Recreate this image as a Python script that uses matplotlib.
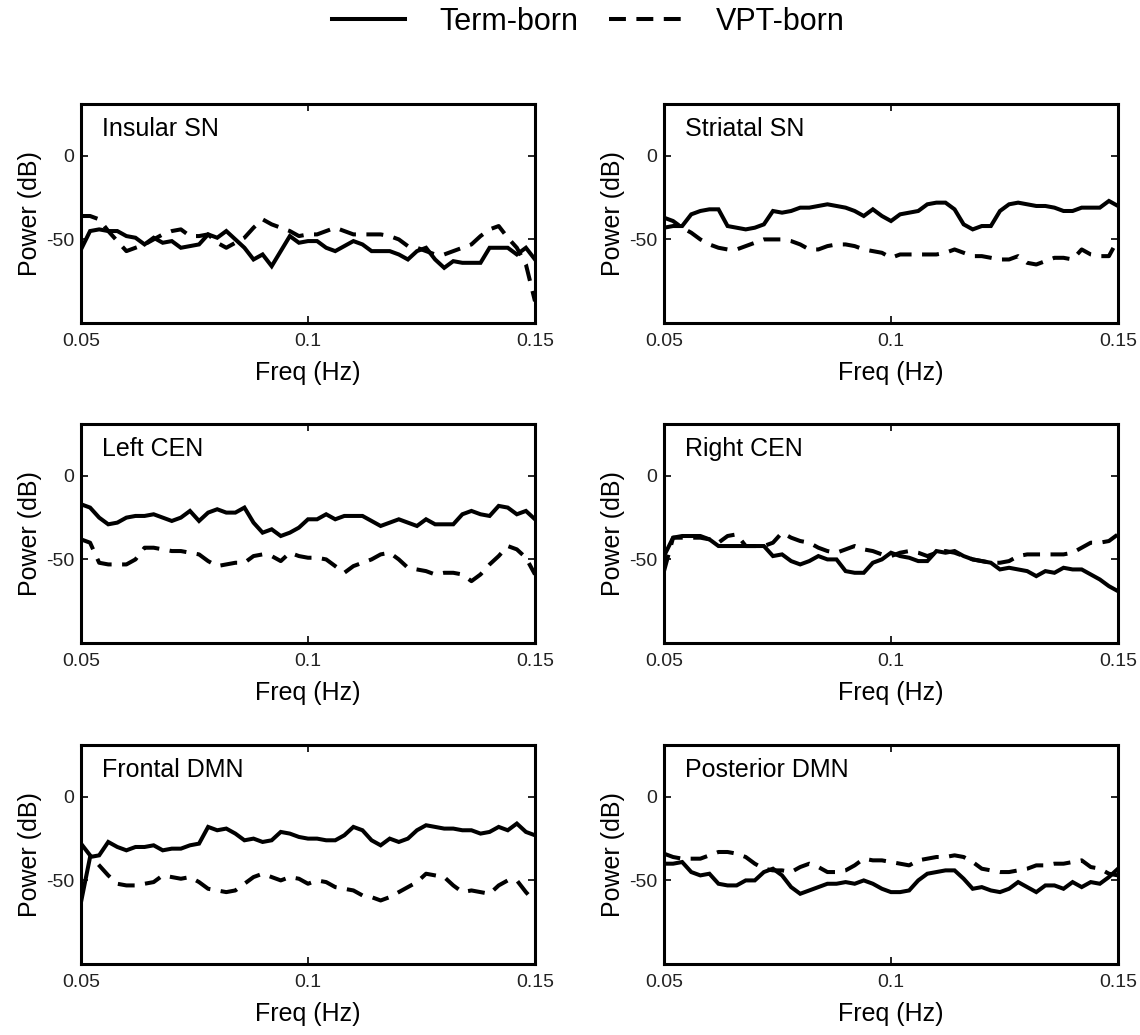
import numpy as np
import matplotlib
matplotlib.use("Agg")
import matplotlib.pyplot as plt
from matplotlib.lines import Line2D

plt.rcParams['font.family'] = ['Liberation Sans', 'DejaVu Sans']

freq = np.linspace(0.05, 0.15, 51)

panel_titles = ["Insular SN", "Striatal SN", "Left CEN", "Right CEN", "Frontal DMN", "Posterior DMN"]
series_names = ["Term-born", "VPT-born"]
x_ticks = [0.05, 0.1, 0.15]
x_tick_labels = ["0.05", "0.1", "0.15"]
y_ticks = [-50, 0]
y_tick_labels = ["-50", "0"]

insular_term = [-56, -45, -44, -45, -45, -48, -49, -53, -49, -52, -51, -55, -54, -53, -47, -49, -45, -50,
                -55, -62, -59, -66, -57, -48, -52, -51, -51, -55, -57, -54, -51, -53, -57, -57, -57, -59,
                -62, -57, -55, -62, -67, -63, -64, -64, -64, -55, -55, -55, -59, -55, -62]
insular_vpt = [-36, -36, -38, -45, -51, -57, -55, -53, -50, -47, -45, -44, -48, -48, -47, -52, -55, -52,
               -49, -43, -38, -41, -43, -45, -48, -47, -47, -45, -43, -45, -47, -47, -47, -47, -48, -50,
               -54, -55, -57, -59, -59, -57, -55, -53, -48, -44, -42, -49, -55, -65, -87]

striatal_term = [-43, -42, -42, -35, -33, -32, -32, -42, -43, -44, -43, -41, -33, -34, -33, -31, -31, -30,
                 -29, -30, -31, -33, -36, -32, -36, -39, -35, -34, -33, -29, -28, -28, -32, -41, -44, -42,
                 -42, -33, -29, -28, -29, -30, -30, -31, -33, -33, -31, -31, -31, -27, -30]
striatal_vpt = [-37, -39, -43, -46, -50, -53, -55, -56, -56, -54, -52, -50, -50, -50, -51, -53, -56, -56,
                -54, -53, -53, -54, -56, -57, -58, -61, -59, -59, -59, -59, -59, -58, -56, -58, -60, -60,
                -61, -62, -62, -60, -64, -65, -63, -61, -61, -62, -56, -59, -60, -60, -50]

leftcen_term = [-17, -19, -25, -29, -28, -25, -24, -24, -23, -25, -27, -25, -21, -27, -22, -20, -22, -22,
                -19, -28, -34, -32, -36, -34, -31, -26, -26, -23, -26, -24, -24, -24, -27, -30, -28, -26,
                -28, -30, -26, -29, -29, -29, -23, -21, -23, -24, -18, -19, -23, -21, -26]
leftcen_vpt = [-38, -40, -52, -53, -53, -53, -50, -43, -43, -44, -45, -45, -46, -47, -51, -54, -53, -52,
               -52, -48, -47, -48, -51, -46, -48, -49, -49, -50, -54, -58, -54, -52, -50, -47, -46, -50,
               -55, -56, -57, -59, -58, -58, -59, -63, -59, -53, -48, -42, -44, -49, -59]

rightcen_term = [-48, -37, -36, -36, -36, -38, -42, -42, -42, -42, -42, -42, -48, -47, -51, -53, -51, -48,
                 -50, -50, -57, -58, -58, -52, -50, -46, -48, -49, -51, -51, -45, -46, -45, -48, -50, -51,
                 -52, -56, -55, -56, -57, -60, -57, -58, -55, -56, -56, -59, -62, -66, -69]
rightcen_vpt = [-57, -37, -37, -37, -37, -38, -40, -36, -35, -42, -42, -42, -40, -34, -37, -39, -40, -43,
                -45, -46, -44, -42, -44, -45, -47, -48, -46, -45, -46, -48, -46, -45, -46, -48, -50, -51,
                -52, -52, -51, -48, -47, -47, -47, -47, -47, -46, -43, -40, -40, -39, -35]

frontal_term = [-63, -36, -35, -27, -30, -32, -30, -30, -29, -32, -31, -31, -29, -28, -18, -20, -19, -22,
                -26, -25, -27, -26, -21, -22, -24, -25, -25, -26, -26, -23, -18, -20, -26, -29, -25, -27,
                -25, -20, -17, -18, -19, -19, -20, -20, -22, -21, -18, -20, -16, -21, -23]
frontal_vpt = [-28, -35, -41, -47, -52, -53, -53, -52, -51, -47, -48, -49, -48, -51, -55, -56, -57, -56,
               -52, -48, -46, -48, -50, -48, -49, -52, -50, -51, -54, -55, -56, -59, -60, -62, -60, -57,
               -54, -51, -46, -47, -48, -53, -57, -56, -57, -58, -53, -50, -50, -57, -63]

posterior_term = [-40, -40, -39, -45, -47, -46, -52, -53, -53, -50, -50, -45, -43, -47, -54, -58, -56, -54,
                  -52, -52, -51, -52, -50, -52, -55, -57, -57, -56, -50, -46, -45, -44, -44, -49, -55, -54,
                  -56, -57, -55, -51, -54, -57, -53, -53, -55, -51, -54, -51, -52, -48, -43]
posterior_vpt = [-34, -36, -37, -37, -37, -35, -33, -33, -34, -36, -40, -43, -44, -44, -45, -42, -40, -42,
                 -45, -45, -44, -41, -37, -38, -38, -39, -40, -41, -38, -37, -36, -36, -35, -36, -39, -43,
                 -44, -45, -45, -44, -43, -41, -41, -40, -40, -39, -38, -42, -43, -46, -47]

term_data = [insular_term, striatal_term, leftcen_term, rightcen_term, frontal_term, posterior_term]
vpt_data = [insular_vpt, striatal_vpt, leftcen_vpt, rightcen_vpt, frontal_vpt, posterior_vpt]

W, H = 1140, 1035
fig = plt.figure(figsize=(W / 100, H / 100), dpi=100)

col_lefts = [81, 664]
col_width = 454
row_tops = [104, 424, 745]
row_height = 219

LW = 2.9
DASH = (4.2, 2.6)

for idx in range(6):
    r, c = divmod(idx, 2)
    left = col_lefts[c] / W
    bottom = 1 - (row_tops[r] + row_height) / H
    ax = fig.add_axes([left, bottom, col_width / W, row_height / H])
    ax.plot(freq, term_data[idx], color='black', lw=LW, solid_joinstyle='miter')
    ax.plot(freq, vpt_data[idx], color='black', lw=LW, linestyle=(0, DASH))
    ax.set_xlim(0.05, 0.15)
    ax.set_ylim(-100, 31)
    ax.set_xticks(x_ticks)
    ax.set_xticklabels(x_tick_labels)
    ax.set_yticks(y_ticks)
    ax.set_yticklabels(y_tick_labels)
    ax.tick_params(direction='in', length=5, width=1.2, top=True, right=True,
                   labelsize=14, pad=7, labelcolor='#222222')
    ax.tick_params(axis='y', pad=5)
    for s in ax.spines.values():
        s.set_linewidth(2.2)
    ax.set_xlabel("Freq (Hz)", fontsize=18, labelpad=8)
    ax.set_ylabel("Power (dB)", fontsize=18, labelpad=3)
    ax.text(0.046, 0.885, panel_titles[idx], transform=ax.transAxes,
            ha='left', va='center', fontsize=18)

handles = [Line2D([], [], color='black', lw=LW),
           Line2D([], [], color='black', lw=LW, linestyle=(0, DASH))]
fig.legend(handles, series_names, loc='center', bbox_to_anchor=(0.516, 1 - 22 / H),
           ncol=2, frameon=False, fontsize=22, handlelength=2.4,
           handletextpad=1.1, columnspacing=1.0)

fig.savefig("out.png", dpi=100)
